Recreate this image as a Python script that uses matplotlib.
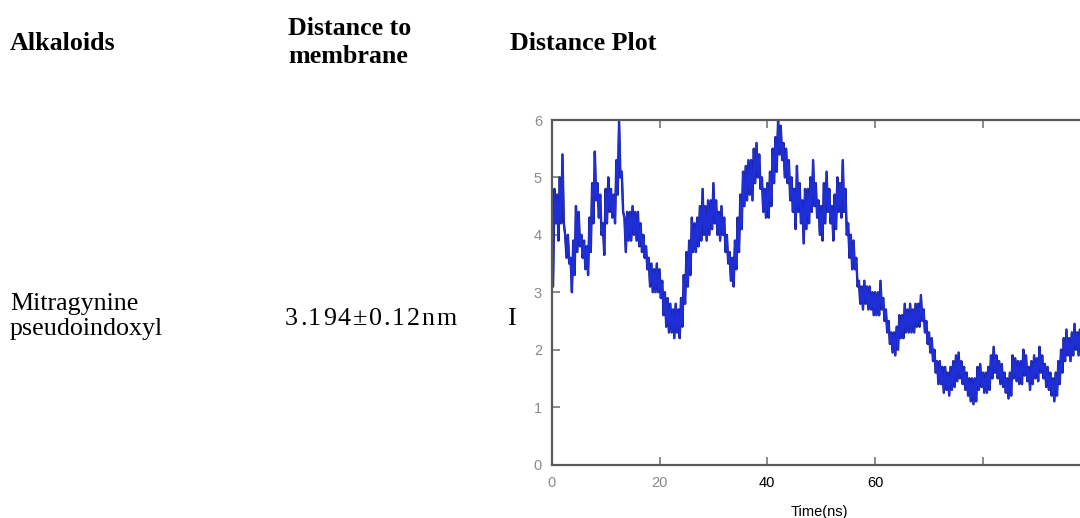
import numpy as np
import matplotlib
matplotlib.use("Agg")
from matplotlib import pyplot as plt

# upper and lower edges of the fluctuating distance trace (nm), every 0.5 ns
peak_time = np.arange(0, 100.5, 0.5)
upper_nm = [
    3.20, 4.80, 4.70, 5.00, 5.40, 4.00, 4.00, 3.60, 3.90, 4.50,
    4.40, 4.00, 3.90, 3.80, 4.30, 4.90, 5.45, 4.90, 4.70, 4.20,
    4.80, 5.00, 4.80, 4.70, 5.30, 6.00, 5.10, 4.30, 4.40, 4.40,
    4.50, 4.40, 4.40, 4.20, 4.00, 3.80, 3.60, 3.50, 3.40, 3.50,
    3.40, 3.20, 3.00, 2.90, 2.80, 2.70, 2.80, 2.70, 2.90, 3.30,
    3.70, 3.90, 4.30, 4.20, 4.30, 4.50, 4.80, 4.50, 4.60, 4.60,
    4.90, 4.60, 4.40, 4.50, 4.30, 4.00, 3.70, 3.60, 3.90, 4.30,
    4.70, 5.10, 5.20, 5.30, 5.30, 5.50, 5.60, 5.40, 5.00, 4.80,
    4.90, 5.10, 5.50, 5.70, 6.00, 5.90, 5.60, 5.50, 5.30, 5.00,
    4.80, 5.20, 4.90, 4.60, 4.80, 4.80, 5.00, 5.30, 4.90, 4.60,
    4.50, 4.90, 5.10, 4.80, 4.50, 4.70, 5.00, 4.90, 5.30, 4.80,
    4.20, 4.00, 3.90, 3.60, 3.20, 3.10, 3.20, 3.10, 3.10, 3.00,
    3.00, 3.00, 3.20, 2.90, 2.70, 2.50, 2.30, 2.30, 2.40, 2.60,
    2.60, 2.80, 2.70, 2.80, 2.70, 2.80, 2.80, 2.95, 2.70, 2.50,
    2.30, 2.20, 2.00, 1.80, 1.80, 1.70, 1.70, 1.60, 1.70, 1.80,
    1.90, 1.95, 1.80, 1.70, 1.60, 1.50, 1.50, 1.50, 1.70, 1.75,
    1.60, 1.60, 1.70, 1.90, 2.05, 1.90, 1.80, 1.75, 1.60, 1.50,
    1.60, 1.90, 1.85, 1.80, 1.80, 2.00, 1.90, 1.70, 1.80, 1.90,
    1.85, 2.05, 1.90, 1.75, 1.70, 1.60, 1.50, 1.60, 1.80, 2.00,
    2.20, 2.35, 2.20, 2.30, 2.45, 2.30, 2.35, 2.20, 2.30, 2.10,
    2.20,
]
lower_nm = [
    3.10, 4.20, 3.90, 4.20, 4.20, 3.60, 3.50, 3.00, 3.30, 3.70,
    3.80, 3.60, 3.40, 3.30, 3.70, 4.20, 4.60, 4.30, 4.00, 3.65,
    4.20, 4.40, 4.30, 4.20, 4.70, 5.00, 4.40, 3.70, 3.90, 3.90,
    4.00, 3.90, 3.80, 3.70, 3.60, 3.40, 3.10, 3.00, 3.00, 3.00,
    2.90, 2.60, 2.40, 2.30, 2.30, 2.20, 2.30, 2.20, 2.40, 2.80,
    3.10, 3.30, 3.70, 3.70, 3.80, 3.90, 4.00, 3.90, 4.00, 4.10,
    4.20, 4.00, 3.90, 4.00, 3.70, 3.50, 3.20, 3.10, 3.40, 3.70,
    4.10, 4.50, 4.60, 4.70, 4.60, 4.90, 5.00, 4.80, 4.40, 4.30,
    4.30, 4.50, 4.90, 5.10, 5.40, 5.30, 5.00, 4.90, 4.60, 4.40,
    4.10, 4.40, 4.20, 3.85, 4.10, 4.20, 4.40, 4.50, 4.30, 4.00,
    3.90, 4.20, 4.40, 4.20, 3.90, 4.10, 4.40, 4.30, 4.40, 4.00,
    3.60, 3.40, 3.40, 3.10, 2.80, 2.70, 2.80, 2.70, 2.70, 2.60,
    2.60, 2.60, 2.70, 2.50, 2.30, 2.10, 1.95, 1.90, 2.00, 2.20,
    2.20, 2.30, 2.30, 2.30, 2.30, 2.40, 2.40, 2.50, 2.30, 2.10,
    1.95, 1.80, 1.60, 1.40, 1.40, 1.25, 1.30, 1.20, 1.30, 1.35,
    1.45, 1.50, 1.40, 1.30, 1.20, 1.10, 1.05, 1.10, 1.30, 1.35,
    1.25, 1.25, 1.30, 1.50, 1.60, 1.50, 1.40, 1.35, 1.25, 1.15,
    1.20, 1.50, 1.45, 1.40, 1.40, 1.55, 1.45, 1.30, 1.40, 1.50,
    1.45, 1.60, 1.50, 1.35, 1.30, 1.20, 1.10, 1.20, 1.40, 1.60,
    1.80, 1.90, 1.80, 1.90, 2.00, 1.90, 1.90, 1.75, 1.80, 1.70,
    1.80,
]

x_ticks = [0, 20, 40, 60, 80]
x_labels = ["0", "20", "40", "60", ""]
x_label_colors = ["#8a8a8a", "#8a8a8a", "black", "black", "black"]
y_ticks = [0, 1, 2, 3, 4, 5, 6]

headers = [("Alkaloids", 10, 50), ("Distance to", 288, 35),
           ("membrane", 288, 63), ("Distance Plot", 510, 50)]
row = [("Mitragynine", 10, 310), ("pseudoindoxyl", 10, 335), ("I", 507, 325)]
value_text = ("3.194\u00b10.12nm", 285, 325)

W, H = 1080, 518
fig = plt.figure(figsize=(W / 100, H / 100), dpi=100)
fig.patch.set_facecolor("white")

serif = "Liberation Serif"
fsize = 18.7
for txt, x, y in headers:
    fig.text(x / W, 1 - y / H, txt, fontsize=fsize, fontweight="bold",
             family=serif, va="baseline", ha="left")
for txt, x, y in row:
    fig.text(x / W, 1 - y / H, txt, fontsize=fsize, family=serif,
             va="baseline", ha="left")

# the value cell is set with a little extra letter spacing
renderer = fig.canvas.get_renderer()
txt, x, y = value_text
for ch in txt:
    t = fig.text(x / W, 1 - y / H, ch, fontsize=fsize, family=serif,
                 va="baseline", ha="left")
    x += t.get_window_extent(renderer).width + 1.8

# plot panel; its right edge runs past the figure border
left, right, top, bottom = 551.7, 1090.7, 120.0, 464.5
ax = fig.add_axes([left / W, 1 - bottom / H, (right - left) / W, (bottom - top) / H])

# trace alternates between the upper and lower edges
trace_t = np.column_stack([peak_time, peak_time + 0.25]).ravel()[:-1]
trace_v = np.column_stack([upper_nm, lower_nm]).ravel()[:-1]
ax.plot(trace_t, trace_v, color="#181878", lw=1.7)
ax.plot(trace_t, trace_v, color="#1f2fd8", lw=1.25)

ax.set_xlim(0, 100)
ax.set_ylim(0, 6)
ax.set_xticks(x_ticks)
ax.set_xticklabels(x_labels, fontsize=10.5, family="Liberation Sans")
for lab, c in zip(ax.get_xticklabels(), x_label_colors):
    lab.set_color(c)
ax.set_yticks(y_ticks)
ax.set_yticklabels([str(v) for v in y_ticks], fontsize=10.5,
                   family="Liberation Sans", color="#8a8a8a")
ax.tick_params(axis="x", direction="in", length=6, width=1.2, color="#777777",
               top=True, pad=8)
ax.tick_params(axis="y", direction="in", length=6, width=1.2, color="#777777",
               pad=7)
for s in ax.spines.values():
    s.set_color("#5a5a5a")
    s.set_linewidth(1.6)

ax.set_xlabel("Time(ns)", fontsize=10.5, family="Liberation Sans")
ax.xaxis.set_label_coords((819 - left) / (right - left), -(505 - bottom) / (bottom - top))

fig.savefig("out.png", dpi=100)
